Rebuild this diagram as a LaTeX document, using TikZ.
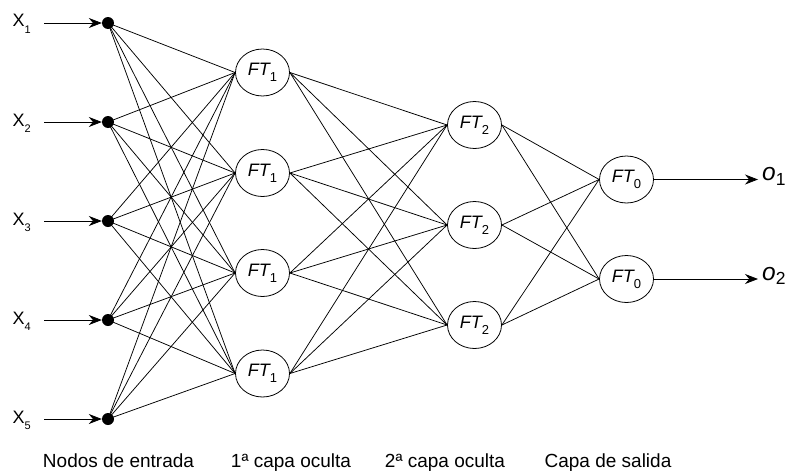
\documentclass[tikz,border=0pt]{standalone}
\usepackage{fontspec}
\setmainfont{Liberation Sans}
\usetikzlibrary{arrows.meta,shapes.geometric}
% italic unit name with a lowered upright index
\newcommand{\ftlabel}[1]{{\fontsize{18}{20}\selectfont\itshape FT}\raisebox{-6pt}{\fontsize{13}{14}\selectfont #1}}
\begin{document}
\begin{tikzpicture}[x=1pt,y=-1pt,
  every node/.style={font=\fontsize{19}{21}\selectfont},
  neuron/.style={draw, ellipse, line width=0.8pt, minimum width=54pt, minimum height=47pt, inner sep=0pt},
  inputdot/.style={circle, fill=black, minimum size=12pt, inner sep=0pt},
  wire/.style={line width=0.75pt},
  feed/.style={line width=0.8pt, -{Stealth[length=13pt, width=10pt]}},
  layerlabel/.style={anchor=base, font=\fontsize{19}{21}\selectfont}]
\useasboundingbox (0,0) rectangle (789,471);

% input nodes with their arrows
\foreach \i/\y in {1/23, 2/122, 3/221, 4/320, 5/419} {
  \node[inputdot] (in\i) at (108,\y) {};
  \node[anchor=base west, inner sep=0pt] (x\i) at (12.5,\y+4)
    {{\fontsize{18}{20}\selectfont X}\raisebox{-6pt}{\fontsize{11}{12}\selectfont\i}};
  \coordinate (src\i) at (44,\y);
  \draw[feed] (src\i) -- (in\i.west);
}

% first hidden layer
\foreach \i/\y in {1/72.5, 2/173, 3/273, 4/373.5}
  \node[neuron] (h\i) at (262.5,\y) {\ftlabel{1}};

% second hidden layer
\foreach \i/\y in {1/125, 2/225, 3/325}
  \node[neuron] (g\i) at (474.5,\y) {\ftlabel{2}};

% output layer
\foreach \i/\y in {1/179.5, 2/279} {
  \node[neuron] (f\i) at (626.5,\y) {\ftlabel{0}};
  \coordinate (out\i) at (758,\y);
  \draw[feed] (f\i.east) -- (out\i);
  \node[anchor=base west, inner sep=0pt] (o\i) at (762,\y+1)
    {{\fontsize{24.5}{26}\selectfont\itshape o}\raisebox{-4.5pt}{\fontsize{17.5}{19}\selectfont\i}};
}

% full connections between layers
\foreach \a in {1,...,5}
  \foreach \b in {1,...,4}
    \draw[wire] (in\a.center) -- (h\b.west);
\foreach \a in {1,...,4}
  \foreach \b in {1,...,3}
    \draw[wire] (h\a.east) -- (g\b.west);
\foreach \a in {1,...,3}
  \foreach \b in {1,2}
    \draw[wire] (g\a.east) -- (f\b.west);

% layer captions
\node[layerlabel] (l1) at (118.5,467) {Nodos de entrada};
\node[layerlabel] (l2) at (291,467) {1ª capa oculta};
\node[layerlabel] (l3) at (445,467) {2ª capa oculta};
\node[layerlabel] (l4) at (608,467) {Capa de salida};
\end{tikzpicture}
\end{document}
